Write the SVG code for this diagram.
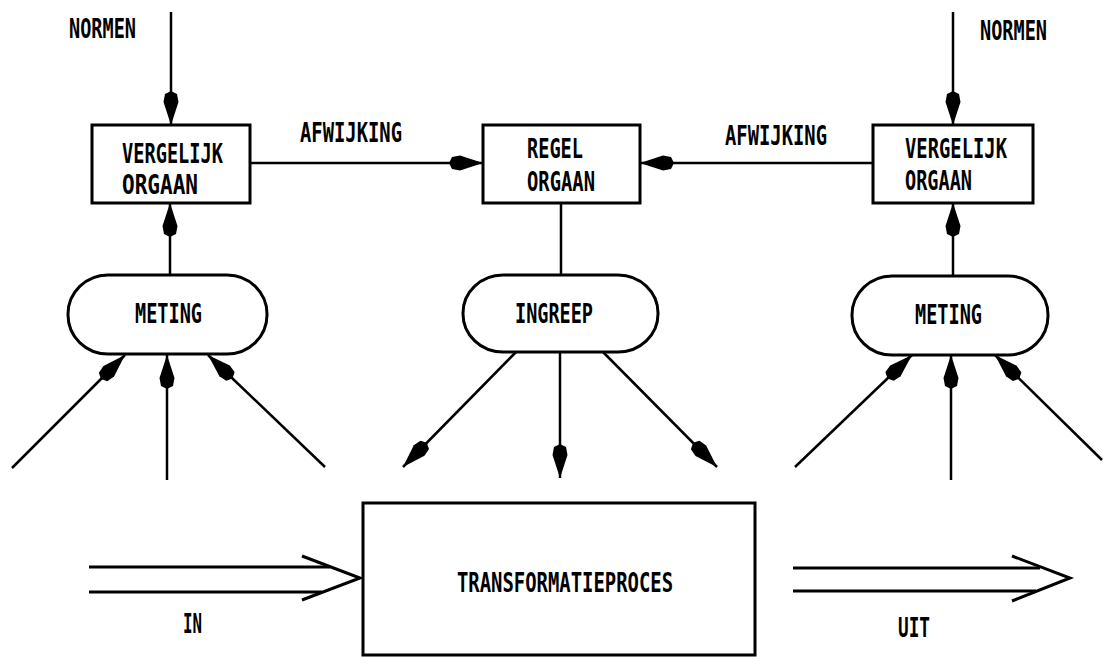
<svg xmlns="http://www.w3.org/2000/svg" width="1103" height="657" viewBox="0 0 1103 657">
  <defs>
    <style>
      .box { fill: #fff; stroke: #000; stroke-width: 3; }
      .ln { fill: none; stroke: #000; stroke-width: 2.5; stroke-linecap: round; }
      .arr { fill: none; stroke: #000; stroke-width: 2.5; marker-end: url(#head); }
      .dbl { fill: none; stroke: #000; stroke-width: 3; stroke-linejoin: miter; }
      .t { font-family: "DejaVu Sans Mono", "Liberation Mono", monospace; font-weight: bold; font-size: 26px; fill: #000; }
    </style>
    <!-- spear-shaped filled arrowhead, tip at origin -->
    <marker id="head" markerUnits="userSpaceOnUse" markerWidth="40" markerHeight="20"
            viewBox="-38 -10 40 20" refX="0" refY="0" orient="auto" overflow="visible">
      <path d="M0,0 L-23,-7.5 L-31,-6 L-34,0 L-31,6 L-23,7.5 Z" fill="#000"/>
    </marker>
  </defs>

  <rect width="1103" height="657" fill="#fff"/>

  <!-- connectors -->
  <g id="connectors">
    <!-- norms into comparators -->
    <line class="arr" x1="171" y1="12" x2="171" y2="125"/>
    <line class="arr" x1="953" y1="12" x2="953" y2="125"/>
    <!-- deviation signals into controller -->
    <line class="arr" x1="250" y1="163" x2="483" y2="163"/>
    <line class="arr" x1="873" y1="163" x2="640" y2="163"/>
    <!-- measurement up to comparators -->
    <line class="arr" x1="170" y1="275" x2="170" y2="203"/>
    <line class="arr" x1="953" y1="275" x2="953" y2="203"/>
    <!-- controller down to intervention -->
    <line class="ln" x1="561" y1="203" x2="561" y2="275"/>
    <!-- inputs to left measurement -->
    <line class="arr" x1="12" y1="468" x2="125" y2="355"/>
    <line class="arr" x1="167" y1="480" x2="167" y2="355"/>
    <line class="arr" x1="325" y1="467" x2="208" y2="355"/>
    <!-- intervention outputs -->
    <line class="arr" x1="517" y1="351" x2="403" y2="467"/>
    <line class="arr" x1="560" y1="351" x2="560" y2="478"/>
    <line class="arr" x1="602" y1="351" x2="717" y2="467"/>
    <!-- inputs to right measurement -->
    <line class="arr" x1="795" y1="467" x2="912" y2="355"/>
    <line class="arr" x1="951" y1="480" x2="951" y2="355"/>
    <line class="arr" x1="1102" y1="460" x2="995" y2="355"/>
    <!-- double-line flow IN -->
    <line class="dbl" x1="89" y1="567" x2="330" y2="567"/>
    <line class="dbl" x1="89" y1="592" x2="322" y2="592"/>
    <polyline class="dbl" points="302,556 360,578 302,600"/>
    <!-- double-line flow UIT -->
    <line class="dbl" x1="793" y1="568" x2="1040" y2="568"/>
    <line class="dbl" x1="793" y1="591" x2="1036" y2="591"/>
    <polyline class="dbl" points="1012,556 1070,578 1012,601"/>
  </g>

  <g id="vergelijk-links">
    <rect class="box" x="92" y="125" width="158" height="78"/>
    <text class="t" x="122" y="163" textLength="101" lengthAdjust="spacingAndGlyphs">VERGELIJK</text>
    <text class="t" x="122" y="194" textLength="76" lengthAdjust="spacingAndGlyphs">ORGAAN</text>
  </g>

  <g id="regel-orgaan">
    <rect class="box" x="483" y="125" width="157" height="78"/>
    <text class="t" x="527" y="158" textLength="56" lengthAdjust="spacingAndGlyphs">REGEL</text>
    <text class="t" x="527" y="191" textLength="68" lengthAdjust="spacingAndGlyphs">ORGAAN</text>
  </g>

  <g id="vergelijk-rechts">
    <rect class="box" x="873" y="125" width="160" height="78"/>
    <text class="t" x="905" y="158" textLength="102" lengthAdjust="spacingAndGlyphs">VERGELIJK</text>
    <text class="t" x="905" y="190" textLength="67" lengthAdjust="spacingAndGlyphs">ORGAAN</text>
  </g>

  <g id="meting-links">
    <rect class="box" x="68" y="275" width="199" height="79" rx="40" ry="39"/>
    <text class="t" x="135" y="323" textLength="67" lengthAdjust="spacingAndGlyphs">METING</text>
  </g>

  <g id="ingreep">
    <rect class="box" x="463" y="275" width="195" height="77" rx="40" ry="38"/>
    <text class="t" x="515" y="323" textLength="78" lengthAdjust="spacingAndGlyphs">INGREEP</text>
  </g>

  <g id="meting-rechts">
    <rect class="box" x="852" y="276" width="196" height="79" rx="40" ry="39"/>
    <text class="t" x="915" y="324" textLength="67" lengthAdjust="spacingAndGlyphs">METING</text>
  </g>

  <g id="transformatieproces">
    <rect class="box" x="363" y="503" width="392" height="152"/>
    <text class="t" x="457" y="592" textLength="216" lengthAdjust="spacingAndGlyphs">TRANSFORMATIEPROCES</text>
  </g>

  <g id="labels">
    <text class="t" x="69" y="38" textLength="67" lengthAdjust="spacingAndGlyphs">NORMEN</text>
    <text class="t" x="980" y="40" textLength="67" lengthAdjust="spacingAndGlyphs">NORMEN</text>
    <text class="t" x="300" y="142" textLength="102" lengthAdjust="spacingAndGlyphs">AFWIJKING</text>
    <text class="t" x="725" y="145" textLength="102" lengthAdjust="spacingAndGlyphs">AFWIJKING</text>
    <text class="t" x="183" y="633" textLength="19" lengthAdjust="spacingAndGlyphs">IN</text>
    <text class="t" x="898" y="637" textLength="32" lengthAdjust="spacingAndGlyphs">UIT</text>
  </g>
</svg>
